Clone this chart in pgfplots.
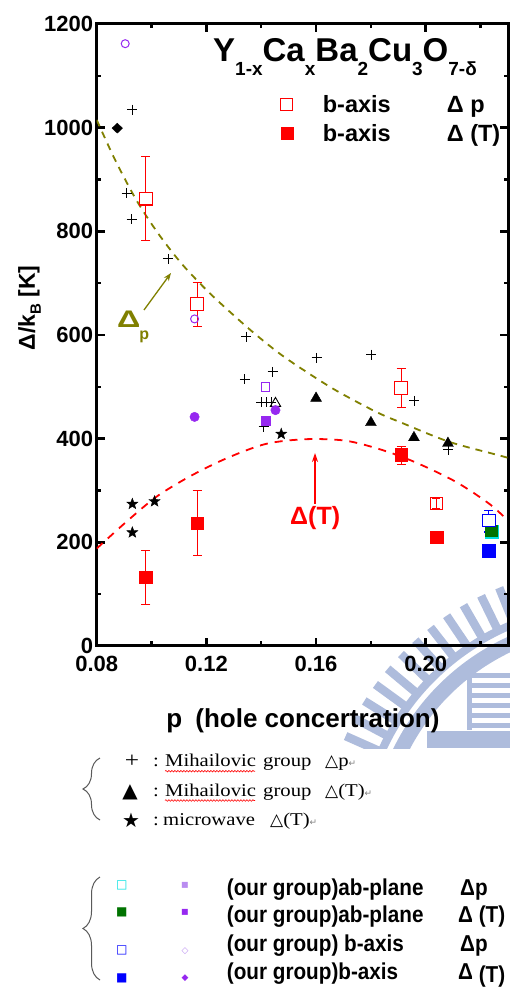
\documentclass[border=0pt]{standalone}
\usepackage{pgfplots}
\pgfplotsset{compat=1.18}
\usepackage{graphicx}
\usepackage{fontspec}
\setmainfont{Liberation Sans}
\newfontfamily\serif{Liberation Serif}[FakeStretch=1.15]
\newfontfamily\sansb{Liberation Sans}[FakeStretch=0.9]
\newfontfamily\dejavu{DejaVu Sans}
\usetikzlibrary{decorations.pathreplacing,decorations.pathmorphing,arrows.meta}

\definecolor{olivec}{RGB}{128,128,0}
\definecolor{purp}{RGB}{150,40,240}
\definecolor{lpurp}{RGB}{185,140,240}
\definecolor{wm}{RGB}{174,188,220}
\definecolor{grn}{RGB}{0,115,0}
\definecolor{cyn}{RGB}{0,225,225}
\definecolor{brc}{RGB}{90,90,90}

\pgfdeclareplotmark{fstar}{%
  \pgfpathmoveto{\pgfpointpolar{90}{\pgfplotmarksize}}%
  \pgfpathlineto{\pgfpointpolar{126}{0.42\pgfplotmarksize}}%
  \pgfpathlineto{\pgfpointpolar{162}{\pgfplotmarksize}}%
  \pgfpathlineto{\pgfpointpolar{198}{0.42\pgfplotmarksize}}%
  \pgfpathlineto{\pgfpointpolar{234}{\pgfplotmarksize}}%
  \pgfpathlineto{\pgfpointpolar{270}{0.42\pgfplotmarksize}}%
  \pgfpathlineto{\pgfpointpolar{306}{\pgfplotmarksize}}%
  \pgfpathlineto{\pgfpointpolar{342}{0.42\pgfplotmarksize}}%
  \pgfpathlineto{\pgfpointpolar{18}{\pgfplotmarksize}}%
  \pgfpathlineto{\pgfpointpolar{54}{0.42\pgfplotmarksize}}%
  \pgfpathclose
  \pgfusepathqfillstroke}

\newcommand\sub[1]{\raisebox{-14pt}{\fontsize{19}{19}\selectfont\bfseries #1}}
\newcommand\ser{\serif\fontsize{18}{18}\selectfont}
\newcommand\ret{{\dejavu\fontsize{9}{9}\selectfont\color{gray}↵}}

\begin{document}
\begin{tikzpicture}
\useasboundingbox (-96.7pt,-342pt) rectangle (413.3pt,646pt);

% watermark
\begin{scope}[shift={(-96.7pt,646pt)},x=1pt,y=-1pt]
  \clip (0,0) rectangle (510,748);
  \draw[wm, line width=15pt] (606,852) ++(195:229) arc[start angle=195, end angle=272, radius=229];
  \draw[wm, line width=8pt] (606,852) ++(195:246) arc[start angle=195, end angle=272, radius=246];
  \foreach \a in {196,200,...,272} \draw[wm, line width=8.5pt] (606,852) ++(\a:249) -- ++(\a:36);
  \fill[wm] (467,672) rectangle (472,730);
  \foreach \yy in {673,683,...,723} \fill[wm] (472,\yy) rectangle (510,\yy+5);
  \fill[wm] (427,731) rectangle (510,748);
\end{scope}

\begin{axis}[
  at={(0pt,0pt)}, anchor=south west,
  scale only axis, width=411.3pt, height=622pt,
  xmin=0.08, xmax=0.23, ymin=0, ymax=1200,
  xtick={0.08,0.12,0.16,0.20}, xticklabels={0.08,0.12,0.16,0.20},
  minor xtick={0.10,0.14,0.18,0.22},
  ytick={0,200,400,600,800,1000,1200}, yticklabels={0,200,400,600,800,1000,1200},
  minor ytick={100,300,500,700,900,1100},
  tick align=inside,
  major tick length=8pt, minor tick length=4.5pt,
  major tick style={line width=2.5pt, black},
  minor tick style={line width=2.5pt, black},
  axis line style={line width=3pt},
  tick label style={font=\fontsize{22}{22}\selectfont\bfseries},
  xticklabel style={yshift=-7pt},
  legend style={draw=none, fill=none, at={(axis description cs:0.44,0.892)}, anchor=north west,
    font=\fontsize{23.5}{23.5}\selectfont\bfseries, row sep=6.5pt},
  legend cell align=left,
]
\addlegendimage{only marks, mark=square*, mark size=6pt, mark options={draw=red, fill=white, line width=1.1pt}}
\addlegendentry{\hspace{28pt}\makebox[124pt][l]{b-axis}Δ p}
\addlegendimage{only marks, mark=square*, mark size=6pt, red}
\addlegendentry{\hspace{28pt}\makebox[124pt][l]{b-axis}Δ (T)}

% guide curves
\addplot[olivec, line width=1.8pt, dash pattern=on 7pt off 6pt, smooth] coordinates {
 (0.080,1015) (0.0867,938) (0.0945,860) (0.1024,796) (0.1109,738) (0.1200,687)
 (0.1285,645) (0.1382,600) (0.1491,555) (0.1660,497) (0.1818,452) (0.1915,430)
 (0.2085,394) (0.2266,368) (0.2300,363)};
\addplot[red, line width=1.8pt, dash pattern=on 8pt off 7pt, smooth] coordinates {
 (0.080,188) (0.0909,240) (0.1018,288) (0.1139,327) (0.1273,362) (0.1418,390)
 (0.1564,399) (0.1709,396) (0.1842,378) (0.1964,354) (0.2109,317) (0.2230,275) (0.2300,242)};

% Mihailovic Delta p
\addplot[only marks, mark=+, mark size=5pt, black, line width=0.9pt] coordinates {
 (0.0930,1035) (0.0909,873) (0.0927,823) (0.1060,747) (0.1345,597) (0.1602,556)
 (0.1802,562) (0.1340,515) (0.1442,529) (0.1400,470) (0.1418,470) (0.1436,470)
 (0.1409,423) (0.1959,473) (0.2081,379)};
% Mihailovic Delta(T)
\addplot[only marks, mark=triangle*, mark size=6.3pt, black] coordinates {
 (0.1600,478) (0.1800,431) (0.1957,402) (0.2081,391)};
\addplot[only marks, mark=triangle, mark size=6pt, black, line width=0.9pt] coordinates {(0.1452,468)};
% microwave
\addplot[only marks, mark=fstar, mark size=5.8pt, black] coordinates {
 (0.0930,274) (0.1011,279) (0.0930,219) (0.1473,409)};
% diamond
\addplot[only marks, mark=diamond*, mark size=5pt, black, mark options={xscale=1.4}] coordinates {(0.0875,999)};

% purple
\addplot[only marks, mark=o, mark size=4pt, purp, line width=1pt] coordinates {(0.0904,1162) (0.1157,631)};
\addplot[only marks, mark=*, mark size=4.7pt, purp] coordinates {(0.1157,442) (0.1452,455)};
\addplot[only marks, mark=square, mark size=4.3pt, purp, line width=1pt] coordinates {(0.1416,500)};
\addplot[only marks, mark=square*, mark size=4.3pt, purp] coordinates {(0.1416,435)};

% red b-axis Delta p (open)
\addplot[only marks, mark=square*, mark size=6.3pt, mark options={draw=red, fill=white, line width=1.1pt}, red,
  error bars/.cd, y dir=both, y explicit,
  error bar style={red, line width=1.1pt},
  error mark options={rotate=90, red, mark size=4.5pt, line width=1.1pt}]
 table[x=x, y=y, y error plus=ep, y error minus=em] {
 x y ep em
 0.0979 863 81 81
 0.1166 660 41 44
 0.1910 498 37 38
};
\addplot[only marks, mark=square, mark size=6pt, mark options={draw=red, line width=1.1pt}, red,
  error bars/.cd, y dir=both, y explicit,
  error bar style={red, line width=1pt},
  error mark options={rotate=90, red, mark size=4pt, line width=1pt}]
 table[x=x, y=y, y error plus=ep, y error minus=em] {
 x y ep em
 0.2039 275 9 9
};
% red b-axis Delta(T) (filled)
\addplot[only marks, mark=square*, mark size=6.3pt, red,
  error bars/.cd, y dir=both, y explicit,
  error bar style={red, line width=1.1pt},
  error mark options={rotate=90, red, mark size=4.5pt, line width=1.1pt}]
 table[x=x, y=y, y error plus=ep, y error minus=em] {
 x y ep em
 0.0979 133 52 53
 0.1166 237 63 63
 0.1910 369 16 19
};
\addplot[only marks, mark=square*, mark size=6.3pt, red] coordinates {(0.2039,210)};
% our group at p ~ 0.223
\addplot[only marks, mark=square, mark size=6pt, cyn, line width=1.5pt] coordinates {(0.2242,220)};
\addplot[only marks, mark=square*, mark size=5.7pt, grn] coordinates {(0.2239,222)};
\addplot[only marks, mark=square*, mark size=6.3pt, mark options={draw=blue, fill=white, line width=1.1pt}, blue,
  error bars/.cd, y dir=both, y explicit,
  error bar style={blue, line width=1.1pt},
  error mark options={rotate=90, blue, mark size=4.5pt, line width=1.1pt}]
 table[x=x, y=y, y error plus=ep, y error minus=em] {
 x y ep em
 0.2230 242 20 22
};
\addplot[only marks, mark=square*, mark size=6.3pt, blue] coordinates {(0.2230,184)};
\end{axis}

% annotations in image pixel coordinates
\begin{scope}[shift={(-96.7pt,646pt)},x=1pt,y=-1pt]
  \node[anchor=base west, inner sep=0] at (213,61.7)
    {\fontsize{33}{33}\selectfont\bfseries Y\sub{1-x}Ca\sub{x}Ba\sub{2}Cu\sub{3}O\sub{7-δ}};
  \draw[olivec, line width=1.3pt, -{Stealth[length=8pt,width=6pt]}] (144,310) -- (171,273);
  \draw[red, line width=1.3pt, -{Stealth[length=9pt,width=6pt]}] (315,504) -- (315,453);
  \node[olivec, anchor=base west, inner sep=0] at (117,328)
    {\fontsize{24}{24}\selectfont\bfseries\scalebox{1.35}[1]{Δ}\hspace{-1pt}\raisebox{-12pt}{\fontsize{16}{16}\selectfont p}};
  \node[red, anchor=base west, inner sep=0] at (290,525) {\fontsize{25}{25}\selectfont\bfseries Δ(T)};
  \node[rotate=90, anchor=base, inner sep=0] at (35,308)
    {\fontsize{23}{23}\selectfont\bfseries Δ/k\raisebox{-6pt}{\fontsize{15}{15}\selectfont B} [K]};
  \node[anchor=base, inner sep=0] at (303,727)
    {\fontsize{26}{26}\selectfont\bfseries p\hspace{0.5em}(hole concertration)};

  % first legend group
  \node[anchor=base, inner sep=0] at (132,767) {\serif\fontsize{22}{22}\selectfont +};
  \node[anchor=base, inner sep=0] at (130,797) {\dejavu\fontsize{20}{20}\selectfont ▲};
  \node[anchor=base, inner sep=0] at (131,827) {\dejavu\fontsize{20}{20}\selectfont ★};
  \foreach \yy in {766.7,796} {
    \node[anchor=base west, inner sep=0] at (153,\yy) {\ser :};
    \node[anchor=base west, inner sep=0] at (165,\yy) {\ser Mihailovic};
    \node[anchor=base west, inner sep=0] at (263,\yy) {\ser group};
    \draw[red, line width=0.6pt, decorate, decoration={snake, segment length=3pt, amplitude=0.8pt}] (165,\yy+4.5) -- (255,\yy+4.5);
  }
  \node[anchor=base west, inner sep=0] at (325,766.7) {{\dejavu\fontsize{17}{17}\selectfont △}\ser p\ret};
  \node[anchor=base west, inner sep=0] at (325,796) {{\dejavu\fontsize{17}{17}\selectfont △}\ser (T)\ret};
  \node[anchor=base west, inner sep=0] at (153,825) {\ser :};
  \node[anchor=base west, inner sep=0] at (163,825) {\ser microwave};
  \node[anchor=base west, inner sep=0] at (270,825) {{\dejavu\fontsize{17}{17}\selectfont △}\ser (T)\ret};

  % second legend group
  \node[cyn, inner sep=0] at (121.7,885) {\dejavu\fontsize{12}{12}\selectfont □};
  \node[grn, inner sep=0] at (121.7,912.7) {\dejavu\fontsize{12}{12}\selectfont ■};
  \node[blue, inner sep=0] at (121.7,950.7) {\dejavu\fontsize{12}{12}\selectfont □};
  \node[blue, inner sep=0] at (121.7,978.3) {\dejavu\fontsize{12}{12}\selectfont ■};
  \node[lpurp, inner sep=0] at (185,885) {\dejavu\fontsize{12}{12}\selectfont ▪};
  \node[purp, inner sep=0] at (185,912.7) {\dejavu\fontsize{12}{12}\selectfont ▪};
  \node[lpurp, inner sep=0] at (185,950.7) {\dejavu\fontsize{9}{9}\selectfont ◇};
  \node[purp, inner sep=0] at (185,978.3) {\dejavu\fontsize{9}{9}\selectfont ◆};
  \node[anchor=base west, inner sep=0] at (226.7,895) {\sansb\bfseries\fontsize{23}{23}\selectfont (our group)ab-plane};
  \node[anchor=base west, inner sep=0] at (226.7,922.7) {\sansb\bfseries\fontsize{23}{23}\selectfont (our group)ab-plane};
  \node[anchor=base west, inner sep=0] at (226.7,951.7) {\sansb\bfseries\fontsize{23}{23}\selectfont (our group) b-axis};
  \node[anchor=base west, inner sep=0] at (226.7,979.3) {\sansb\bfseries\fontsize{23}{23}\selectfont (our group)b-axis};
  \node[anchor=base west, inner sep=0] at (460,895) {\sansb\bfseries\fontsize{23}{23}\selectfont Δp};
  \node[anchor=base west, inner sep=0] at (458,922.7) {\sansb\bfseries\fontsize{23}{23}\selectfont Δ (T)};
  \node[anchor=base west, inner sep=0] at (460,951.7) {\sansb\bfseries\fontsize{23}{23}\selectfont Δp};
  \node[anchor=base west, inner sep=0] at (458,979.3) {\sansb\bfseries\fontsize{23}{23}\selectfont Δ \raisebox{-3pt}{(T)}};
\end{scope}

% braces (canvas coordinates)
\draw[brc, line width=1pt, decorate, decoration={brace, amplitude=17pt}] (3.3pt,-174pt) -- (3.3pt,-112pt);
\draw[brc, line width=1pt, decorate, decoration={brace, amplitude=17pt}] (3.3pt,-334pt) -- (3.3pt,-231pt);
\end{tikzpicture}
\end{document}
